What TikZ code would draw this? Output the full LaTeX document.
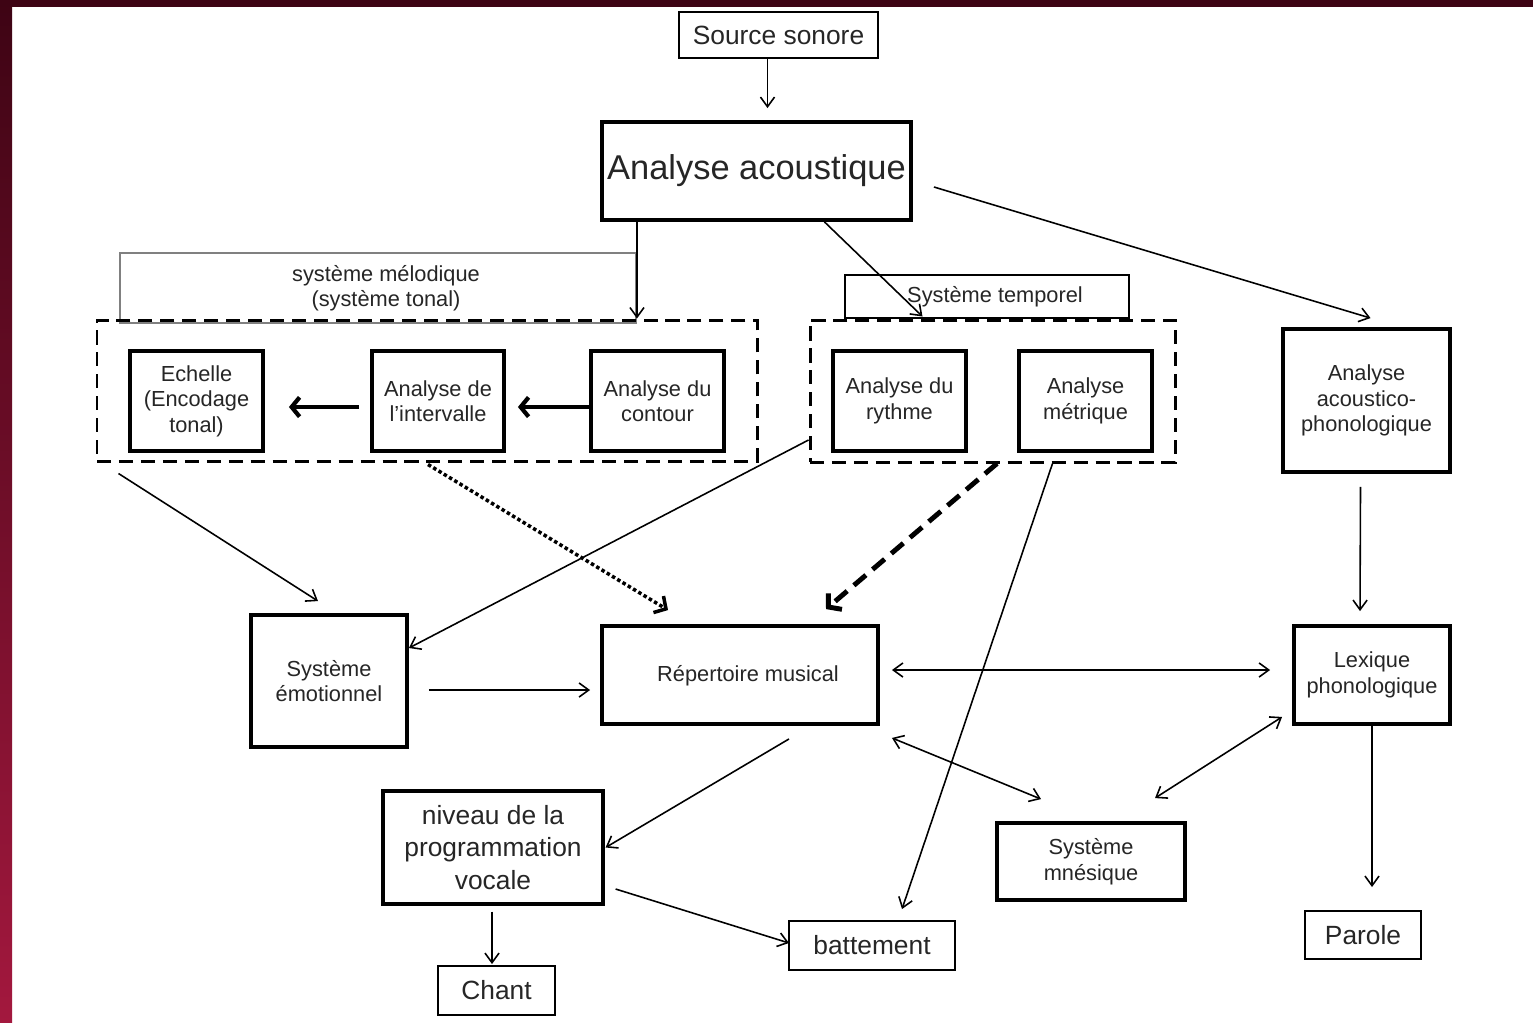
\documentclass[tikz,border=0pt]{standalone}
\usepackage{fontspec}
\setmainfont{Liberation Sans}
\usetikzlibrary{arrows.meta,calc}
\definecolor{bordeau}{RGB}{62,4,20}
\definecolor{cramoisi}{RGB}{163,24,62}
\tikzset{taille/.style 2 args={minimum width=#1*0.02cm,minimum height=#2*0.02cm}}
\begin{document}
\begin{tikzpicture}[x=0.02cm,y=-0.02cm]
\tikzstyle{every node}+=[inner sep=0pt]
\tikzstyle{petit}=[font=\fontsize{12.4}{14.5}\selectfont]
\tikzstyle{moyen}=[font=\fontsize{15}{18.4}\selectfont]
\tikzstyle{boite}=[draw,line width=2.2pt,align=center,text=black!85,petit]
\tikzstyle{fine}=[draw,line width=1.1pt,align=center,text=black!85,moyen]
\tikzstyle{groupe}=[draw,line width=1.7pt,dash pattern=on 8pt off 4.5pt]
\tikzstyle{fl}=[line width=0.9pt,-{Straight Barb[length=5.5pt,width=8pt]}]
\tikzstyle{dfl}=[line width=0.9pt,{Straight Barb[length=5.5pt,width=8pt]}-{Straight Barb[length=5.5pt,width=8pt]}]
\tikzstyle{gfl}=[line width=2.4pt,-{Straight Barb[length=4.5pt,width=11pt]}]
\tikzstyle{pointille}=[line width=2pt,dash pattern=on 2pt off 1.5pt,-{Straight Barb[length=5pt,width=11pt]}]
\tikzstyle{tirets}=[line width=2.8pt,dash pattern=on 9pt off 5pt,-{Straight Barb[length=5pt,width=12pt]}]
\useasboundingbox (0,0) rectangle (1533,1022);
\fill[white] (0,0) rectangle (1533,1022);
\shade[top color=bordeau,bottom color=cramoisi] (0,0) rectangle (12,1022);
\fill[bordeau] (0,0) rectangle (1533,7);
\node[fine,taille={199}{46}] (src) at (778.5,35) {Source sonore};
\node[boite,taille={309}{98},font=\fontsize{19.6}{23}\selectfont] (acou) at (756.5,171) {Analyse acoustique};
\node[draw=gray,line width=1.1pt,taille={516}{70}] (melo) at (378,288) {};
\node[align=center,text=black!85,petit] (melotxt) at (386,288) {système mélodique\\(système tonal)};
\node[groupe,taille={660}{141}] (melgrp) at (427,390.5) {};
\node[boite,taille={133}{100}] (ech) at (196.5,401) {Echelle\\(Encodage\\tonal)};
\node[boite,taille={132}{100}] (intv) at (438,401) {Analyse de\\l'intervalle};
\node[boite,taille={133}{100}] (cont) at (657.5,401) {Analyse du\\contour};
\node[draw,line width=1.1pt,taille={284}{43}] (temp) at (987,296.5) {};
\node[text=black!85,petit] (temptxt) at (995,296.5) {Système temporel};
\node[groupe,taille={365}{142}] (tmpgrp) at (992.5,391) {};
\node[boite,taille={133}{100}] (ryth) at (899.5,401) {Analyse du\\rythme};
\node[boite,taille={133}{100}] (metr) at (1085.5,401) {Analyse\\métrique};
\node[boite,taille={167}{143}] (aphon) at (1366.5,400.5) {Analyse\\acoustico-\\phonologique};
\node[boite,taille={156}{98}] (lex) at (1372,675) {Lexique\\phonologique};
\node[fine,taille={116}{48}] (parole) at (1363,935) {Parole};
\node[boite,taille={156}{132}] (emo) at (329,681) {Système\\émotionnel};
\node[boite,taille={276}{98}] (rep) at (740,675) {};
\node[text=black!85,petit] (reptxt) at (748,676) {Répertoire musical};
\node[boite,taille={188}{77}] (mnes) at (1091,861.5) {Système\\mnésique};
\node[fine,taille={166}{49}] (batt) at (872,945.5) {battement};
\node[boite,moyen,line width=1.8pt,taille={220}{113}] (niv) at (493,847.5) {niveau de la\\programmation\\vocale};
\node[fine,taille={117}{49}] (chant) at (496.5,990.5) {Chant};
\draw[fl] ($(src.south)+(-11,0)$) -- ($(acou.north)+(11,-12)$);
\draw[fl] (acou.south -| melo.east) -- (melgrp.north -| melo.east);
\draw[fl] ($(acou.south)+(68,0)$) -- ($(tmpgrp.north)+(-70,-2)$);
\draw[fl] ($(acou.east)+(21,16)$) -- ($(aphon.north)+(4,-9)$);
\draw[gfl] ($(cont.west)+(0,6)$) -- ($(intv.east)+(12,6)$);
\draw[gfl] ($(intv.west)+(-11,6)$) -- ($(ech.east)+(24,6)$);
\draw[fl] ($(melgrp.south west)+(23,11)$) -- ($(emo.north)+(-11,-12)$);
\draw[fl] ($(tmpgrp.west)+(0,49)$) -- ($(emo.east)+(0,-33)$);
\draw[fl] ($(emo.east)+(20,9)$) -- ($(rep.west)+(-10,15)$);
\draw[pointille] ($(melgrp.south)+(1,2)$) -- ($(rep.north)+(-72,-14)$);
\draw[tirets] ($(tmpgrp.south)+(4.5,0)$) -- ($(rep.north)+(86,-15)$);
\draw[fl] ($(tmpgrp.south)+(60,0)$) -- ($(batt.north)+(30,-11)$);
\draw[dfl] ($(rep.east)+(12,-5)$) -- ($(lex.west)+(-22,-5)$);
\draw[dfl] ($(rep.south east)+(12,12)$) -- ($(mnes.north)+(-50,-22)$);
\draw[dfl] ($(mnes.north)+(64,-23)$) -- ($(lex.south west)+(-10,-9)$);
\draw[fl] ($(aphon.south)+(-6,13)$) -- ($(lex.north)+(-12,-13)$);
\draw[fl] (lex.south) -- ($(lex.south |- parole.north)+(0,-23)$);
\draw[fl] ($(rep.south)+(49,13)$) -- ($(niv.east)+(1,0)$);
\draw[fl] ($(niv.east)+(11,41.5)$) -- ($(batt.west)+(1,-2.5)$);
\draw[fl] ($(niv.south)+(-1,6)$) -- ($(chant.north)+(-4.5,-1)$);
\end{tikzpicture}
\end{document}
